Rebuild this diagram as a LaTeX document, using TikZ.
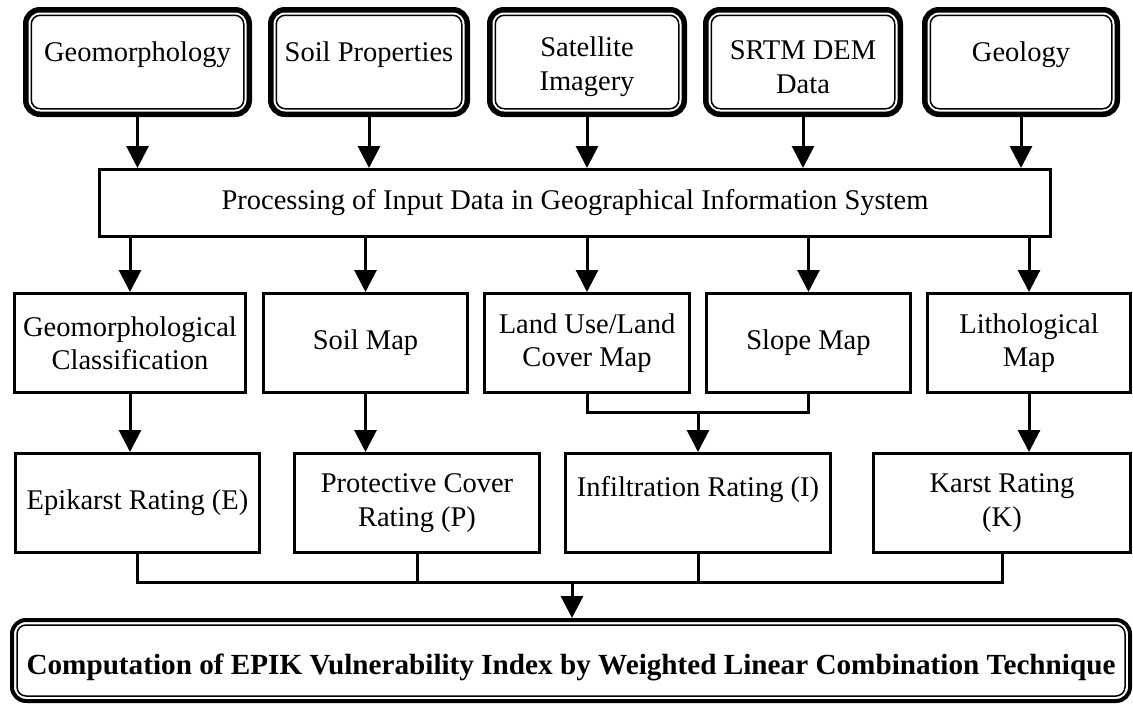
\documentclass[tikz,border=0pt]{standalone}
\usepackage{fontspec}
\setmainfont{Liberation Serif}
\usetikzlibrary{positioning, arrows.meta}

\begin{document}
\begin{tikzpicture}[x=1pt,y=-1pt,line width=3pt,
  every node/.style={font=\fontsize{28.5}{33.5}\selectfont, align=center, inner sep=2pt},
  box/.style={draw, rectangle, minimum height=99pt},
  inbox/.style={draw, line width=5.5pt, rounded corners=14pt, minimum height=104.5pt,
    path picture={\draw[line width=1.5pt, rounded corners=9pt]
      ([shift={(5.5pt,5.5pt)}]path picture bounding box.south west) rectangle
      ([shift={(-5.5pt,-5.5pt)}]path picture bounding box.north east);}},
  outbox/.style={draw, line width=4pt, rounded corners=14pt, minimum height=81pt,
    path picture={\draw[line width=1.5pt, rounded corners=9pt]
      ([shift={(5pt,5pt)}]path picture bounding box.south west) rectangle
      ([shift={(-5pt,-5pt)}]path picture bounding box.north east);}},
  raised/.style={text depth=20pt}]
  \useasboundingbox (0,0) rectangle (1133,704);
  % input data
  \node[inbox, raised, minimum width=223.5pt] (geo)  at (137.5,62) {Geomorphology};
  \node[inbox, raised, minimum width=196.5pt] (soil) at (369,62)   {Soil Properties};
  \node[inbox, minimum width=194.5pt]         (sat)  at (587,62)   {\rule{0pt}{29.5pt}Satellite\\Imagery};
  \node[inbox, minimum width=194.5pt]         (srtm) at (803,62)   {\rule{0pt}{29.5pt}SRTM DEM\\Data};
  \node[inbox, raised, minimum width=192.5pt] (geol) at (1021,62)  {Geology};
  \node[box, minimum width=951pt, minimum height=67pt] (proc) at (575,203)
       {Processing of Input Data in Geographical Information System};
  % thematic maps
  \node[box, minimum width=231pt] (gclass) at (130,343)   {Geomorphological\\Classification};
  \node[box, minimum width=204pt] (smap)   at (365.5,343) {Soil Map};
  \node[box, minimum width=205pt] (luse)   at (587,343)   {Land Use/Land\\Cover Map};
  \node[box, minimum width=204pt] (slope)  at (808.5,343) {Slope Map};
  \node[box, minimum width=203pt] (litho)  at (1029,343)  {Lithological\\Map};
  % ratings
  \node[box, minimum width=244pt] (epi)   at (137.5,503) {Epikarst Rating (E)};
  \node[box, minimum width=245pt] (prot)  at (417,503)   {Protective Cover\\Rating (P)};
  \node[box, minimum width=265pt] (infil) at (698,503)   {Infiltration Rating (I)\\\mbox{}};
  \node[box, minimum width=257pt] (karst) at (1002,503)  {Karst Rating\\(K)};
  \node[outbox, minimum width=1118pt, font=\fontsize{29.2}{34}\selectfont\bfseries] (epik) at (571,660.5)
       {\rule{0pt}{35pt}Computation of EPIK Vulnerability Index by Weighted Linear Combination Technique};
  \coordinate (ls) at (698,412);
  \coordinate (jn) at (572,582);
\tikzset{arr/.style={-{Triangle[width=22pt,length=22pt]}}}
\path (geo)    edge [arr] (geo |- proc.north)
      (soil)   edge [arr] (soil |- proc.north)
      (sat)    edge [arr] (sat |- proc.north)
      (srtm)   edge [arr] (srtm |- proc.north)
      (geol)   edge [arr] (geol |- proc.north)
      (gclass |- proc.south) edge [arr] (gclass)
      (smap |- proc.south)   edge [arr] (smap)
      (luse |- proc.south)   edge [arr] (luse)
      (slope |- proc.south)  edge [arr] (slope)
      (litho |- proc.south)  edge [arr] (litho)
      (gclass) edge [arr] (gclass |- epi.north)
      (smap)   edge [arr] (smap |- prot.north)
      (litho)  edge [arr] (litho |- karst.north)
      (ls)     edge [arr] (ls |- infil.north)
      (jn)     edge [arr] (jn |- epik.north);
\draw (luse) |- (ls) -| (slope);
\draw (epi) |- (jn) -| (karst);
\draw (prot) -- (prot |- jn);
\draw (infil) -- (infil |- jn);
\end{tikzpicture}
\end{document}
